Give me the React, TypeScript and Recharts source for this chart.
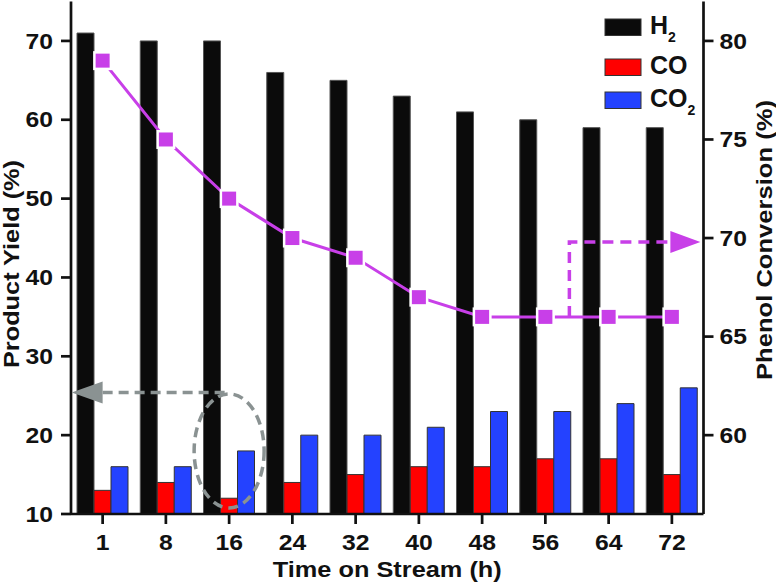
import React from "react";
import { ComposedChart, Bar, Line, XAxis, YAxis, Legend, ReferenceDot, ReferenceLine } from "recharts";

const FONT = '"Liberation Sans", Arial, Helvetica, sans-serif';
const INK = "#111";
const MAGENTA = "#c83fe8";
const ARROW_GRAY = "#8a9292";

const hours = [1, 8, 16, 24, 32, 40, 48, 56, 64, 72];
const seriesNames = ["H2", "CO", "CO2"];
const h2Yield = [71, 70, 70, 66, 65, 63, 61, 60, 59, 59];
const coYield = [13, 14, 12, 14, 15, 16, 16, 17, 17, 15];
const co2Yield = [16, 16, 18, 20, 20, 21, 23, 23, 24, 26];
const phenolConversion = [79, 75, 72, 70, 69, 67, 66, 66, 66, 66];

const yieldTicks = [10, 20, 30, 40, 50, 60, 70];
const conversionTicks = [60, 65, 70, 75, 80];

const chartData = hours.map((h, i) => ({
  time: h,
  H2: h2Yield[i],
  CO: coYield[i],
  CO2: co2Yield[i],
  conversion: phenolConversion[i],
}));

const axisStyle = { stroke: INK, strokeWidth: 2.7 };

// the source figure is stretched sideways, so the labels get a 1.15 x-scale
function stretchedTick(anchor: "start" | "middle" | "end", dy: string) {
  return (props: any) => (
    <text
      transform={`translate(${props.x},${props.y}) scale(1.15,1)`}
      textAnchor={anchor}
      dy={dy}
      fill={INK}
      fontFamily={FONT}
      fontSize={21.5}
      fontWeight={700}
    >
      {props.payload.value}
    </text>
  );
}

function SquareDot(props: any) {
  const { cx, cy, index } = props;
  if (cx == null || cy == null) return null;
  return (
    <rect
      key={`dot-${index}`}
      x={cx - 8.25}
      y={cy - 8.25}
      width={16.5}
      height={16.5}
      fill={MAGENTA}
      stroke="#fff"
      strokeWidth={2.5}
    />
  );
}

function renderLegend(props: any) {
  const rowTops = [19, 59, 92];
  const items = (props.payload || [])
    .filter((p: any) => seriesNames.includes(String(p.value)))
    .sort((a: any, b: any) => seriesNames.indexOf(String(a.value)) - seriesNames.indexOf(String(b.value)));
  return (
    <svg width={776} height={584} style={{ position: "absolute", left: 0, top: 0, overflow: "visible" }}>
      {items.map((entry: any, i: number) => {
        const name = String(entry.value);
        const hasSub = name.endsWith("2");
        const top = rowTops[i];
        return (
          <g key={name}>
            <rect x={605} y={top} width={36} height={16.5} fill={entry.color} stroke="#333" strokeWidth={1} />
            <text x={650} y={top + 14.5} fontFamily={FONT} fontWeight={700} fontSize={25} fill={INK}>
              {hasSub ? name.slice(0, -1) : name}
              {hasSub && (
                <tspan fontSize={14} dy={8}>
                  2
                </tspan>
              )}
            </text>
          </g>
        );
      })}
    </svg>
  );
}

function GrayLoop(props: any) {
  const { cx, cy } = props;
  return (
    <ellipse cx={cx} cy={cy} rx={35} ry={57} fill="none" stroke={ARROW_GRAY} strokeWidth={3.5} strokeDasharray="10 6" />
  );
}

function GrayHead(props: any) {
  const { cx, cy } = props;
  return <polygon points={`${cx - 31},${cy} ${cx},${cy - 11} ${cx},${cy + 11}`} fill={ARROW_GRAY} />;
}

function MagentaArrow(props: any) {
  const { cx, cy } = props;
  const x0 = cx + 24;
  const yTop = cy - 75;
  const xEnd = cx + 125;
  return (
    <g>
      <path
        d={`M${x0},${cy} V${yTop} H${xEnd}`}
        fill="none"
        stroke={MAGENTA}
        strokeWidth={3.5}
        strokeDasharray="11 7"
      />
      <polygon points={`${xEnd},${yTop - 11} ${xEnd + 30},${yTop} ${xEnd},${yTop + 11}`} fill={MAGENTA} />
    </g>
  );
}

export default function App() {
  return (
    <div style={{ position: "absolute", left: 0, top: 0, width: 776, height: 584, background: "#fff" }}>
      <ComposedChart
        width={776}
        height={584}
        data={chartData}
        margin={{ top: 1.5, right: 0, bottom: 0, left: 0 }}
        barCategoryGap={6}
        barGap={0}
      >
        <XAxis
          dataKey="time"
          type="category"
          interval={0}
          height={70}
          tickSize={10}
          tickMargin={11}
          axisLine={axisStyle}
          tickLine={axisStyle}
          tick={stretchedTick("middle", "0.71em")}
          label={{
            content: ({ viewBox }: any) => (
              <text
                x={viewBox.x + viewBox.width / 2}
                y={viewBox.y + 62.5}
                textAnchor="middle"
                textLength={229}
                lengthAdjust="spacingAndGlyphs"
                fontFamily={FONT}
                fontWeight={700}
                fontSize={22.5}
                fill={INK}
              >
                Time on Stream (h)
              </text>
            ),
          }}
        />
        <XAxis xAxisId="top" dataKey="time" orientation="top" height={0} tick={false} tickLine={false} axisLine={axisStyle} />
        <YAxis
          yAxisId="left"
          domain={[10, 75]}
          ticks={yieldTicks}
          width={71}
          tickSize={10}
          tickMargin={8}
          axisLine={axisStyle}
          tickLine={axisStyle}
          tick={stretchedTick("end", "0.355em")}
          label={{
            content: () => (
              <text
                transform="translate(19,264) rotate(-90)"
                textAnchor="middle"
                textLength={208}
                lengthAdjust="spacingAndGlyphs"
                fontFamily={FONT}
                fontWeight={700}
                fontSize={22.5}
                fill={INK}
              >
                Product Yield (%)
              </text>
            ),
          }}
        />
        <YAxis
          yAxisId="right"
          orientation="right"
          domain={[56, 82]}
          ticks={conversionTicks}
          width={72.5}
          tickSize={10}
          tickMargin={6}
          axisLine={axisStyle}
          tickLine={axisStyle}
          tick={stretchedTick("start", "0.355em")}
          label={{
            content: () => (
              <text
                transform="translate(772,240) rotate(-90)"
                textAnchor="middle"
                textLength={280}
                lengthAdjust="spacingAndGlyphs"
                fontFamily={FONT}
                fontWeight={700}
                fontSize={22.5}
                fill={INK}
              >
                Phenol Conversion (%)
              </text>
            ),
          }}
        />
        <Legend
          layout="horizontal"
          verticalAlign="middle"
          align="center"
          wrapperStyle={{ position: "absolute", left: 0, top: 0, width: 776, height: 584, pointerEvents: "none" }}
          content={renderLegend}
        />
        <Bar yAxisId="left" dataKey="H2" name="H2" fill="#0b0b0b" stroke="#555" strokeWidth={1} isAnimationActive={false} />
        <Bar yAxisId="left" dataKey="CO" name="CO" fill="#ff0000" stroke="#333" strokeWidth={1} isAnimationActive={false} />
        <Bar yAxisId="left" dataKey="CO2" name="CO2" fill="#2442ff" stroke="#333" strokeWidth={1} isAnimationActive={false} />
        <ReferenceLine
          yAxisId="left"
          segment={[
            { x: 1, y: 25.4 },
            { x: 16, y: 25.4 },
          ]}
          stroke={ARROW_GRAY}
          strokeWidth={3.5}
          strokeDasharray="10 6"
          ifOverflow="visible"
        />
        <ReferenceDot yAxisId="left" x={1} y={25.4} ifOverflow="visible" shape={GrayHead} />
        <ReferenceDot yAxisId="left" x={16} y={18} ifOverflow="visible" shape={GrayLoop} />
        <ReferenceDot yAxisId="right" x={56} y={66} ifOverflow="visible" shape={MagentaArrow} />
        <Line
          yAxisId="right"
          dataKey="conversion"
          type="linear"
          stroke={MAGENTA}
          strokeWidth={3}
          dot={SquareDot}
          activeDot={false}
          legendType="none"
          isAnimationActive={false}
        />
      </ComposedChart>
    </div>
  );
}
